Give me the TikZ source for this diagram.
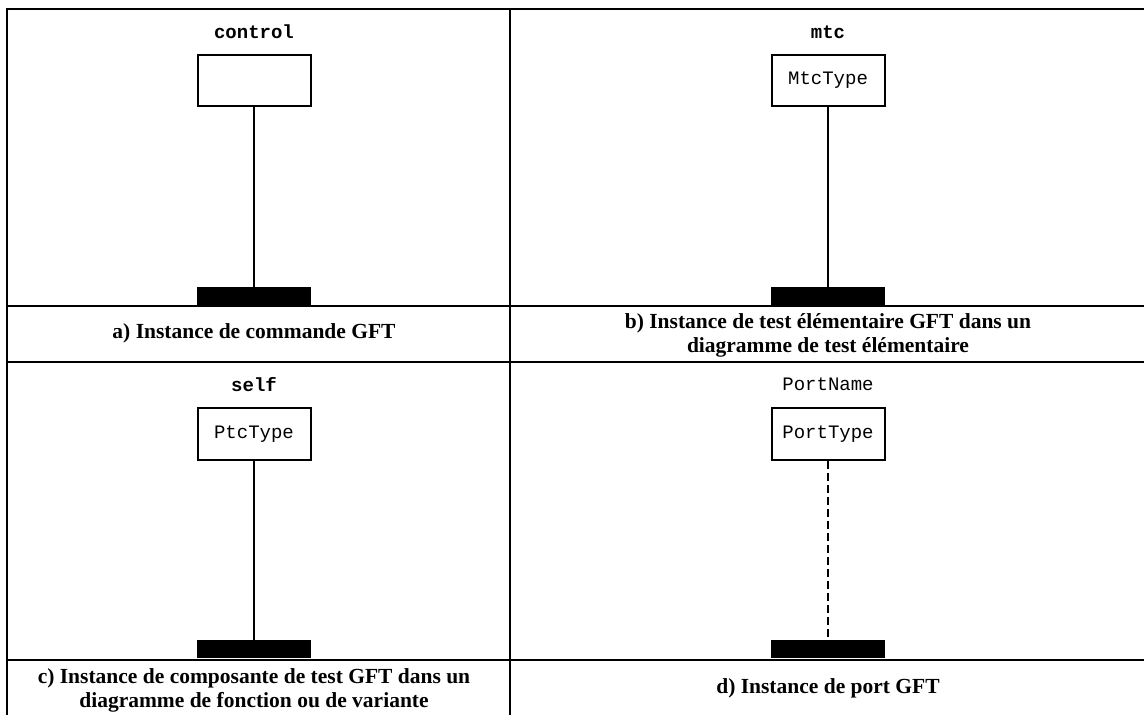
\documentclass[tikz,border=0pt]{standalone}
\usepackage{fontspec}
\setmainfont{Liberation Serif}
\setmonofont{Liberation Mono}
\usetikzlibrary{positioning}

\begin{document}
\begin{tikzpicture}[x=0.5pt, y=-0.5pt,
  inst/.style={draw, line width=1pt, minimum width=56.5pt, minimum height=25.5pt, inner sep=0pt, font=\fontsize{9.5}{11}\ttfamily},
  iname/.style={font=\fontsize{9.5}{11}\ttfamily},
  iend/.style={fill=black, minimum width=57pt, minimum height=9pt, inner sep=0pt},
  caption/.style={align=center, font=\fontsize{10.75}{12}\selectfont\bfseries},
  grid/.style={line width=1.1pt}]
\useasboundingbox (0,0) rectangle (1144,715);
% table
\draw[grid] (7,715) -- (7,9) -- (1144,9);
\draw[grid] (510,9) -- (510,715);
\draw[grid] (7,306) -- (1144,306);
\draw[grid] (7,362) -- (1144,362);
\draw[grid] (7,660) -- (1144,660);
% a) control
\node[iname, font=\fontsize{9.5}{11}\ttfamily\bfseries] (ctrlname) at (254,32) {control};
\node[inst] (ctrl) at (254,80.5) {};
\node[iend] (ctrlend) at (254,296.5) {};
\draw[line width=0.6pt] (ctrl.south) -- (ctrlend.north);
\node[caption] (capa) at (254,333) {a) Instance de commande GFT};
% b) mtc
\node[iname, font=\fontsize{9.5}{11}\ttfamily\bfseries] (mtcname) at (828,32) {mtc};
\node[inst] (mtc) at (828,80.5) {MtcType};
\node[iend] (mtcend) at (828,296.5) {};
\draw[line width=0.6pt] (mtc.south) -- (mtcend.north);
\node[caption] (capb) at (828,335) {b) Instance de test élémentaire GFT dans un\\diagramme de test élémentaire};
% c) self
\node[iname, font=\fontsize{9.5}{11}\ttfamily\bfseries] (selfname) at (254,385) {self};
\node[inst] (ptc) at (254,434) {PtcType};
\node[iend] (ptcend) at (254,649) {};
\draw[line width=0.6pt] (ptc.south) -- (ptcend.north);
\node[caption] (capc) at (254,690) {c) Instance de composante de test GFT dans un\\diagramme de fonction ou de variante};
% d) port
\node[iname] (portname) at (828,384) {PortName};
\node[inst] (port) at (828,434) {PortType};
\node[iend] (portend) at (828,649) {};
\draw[line width=0.7pt, dash pattern=on 4pt off 2pt] (port.south) -- (portend.north);
\node[caption] (capd) at (828,688) {d) Instance de port GFT};
\end{tikzpicture}
\end{document}
